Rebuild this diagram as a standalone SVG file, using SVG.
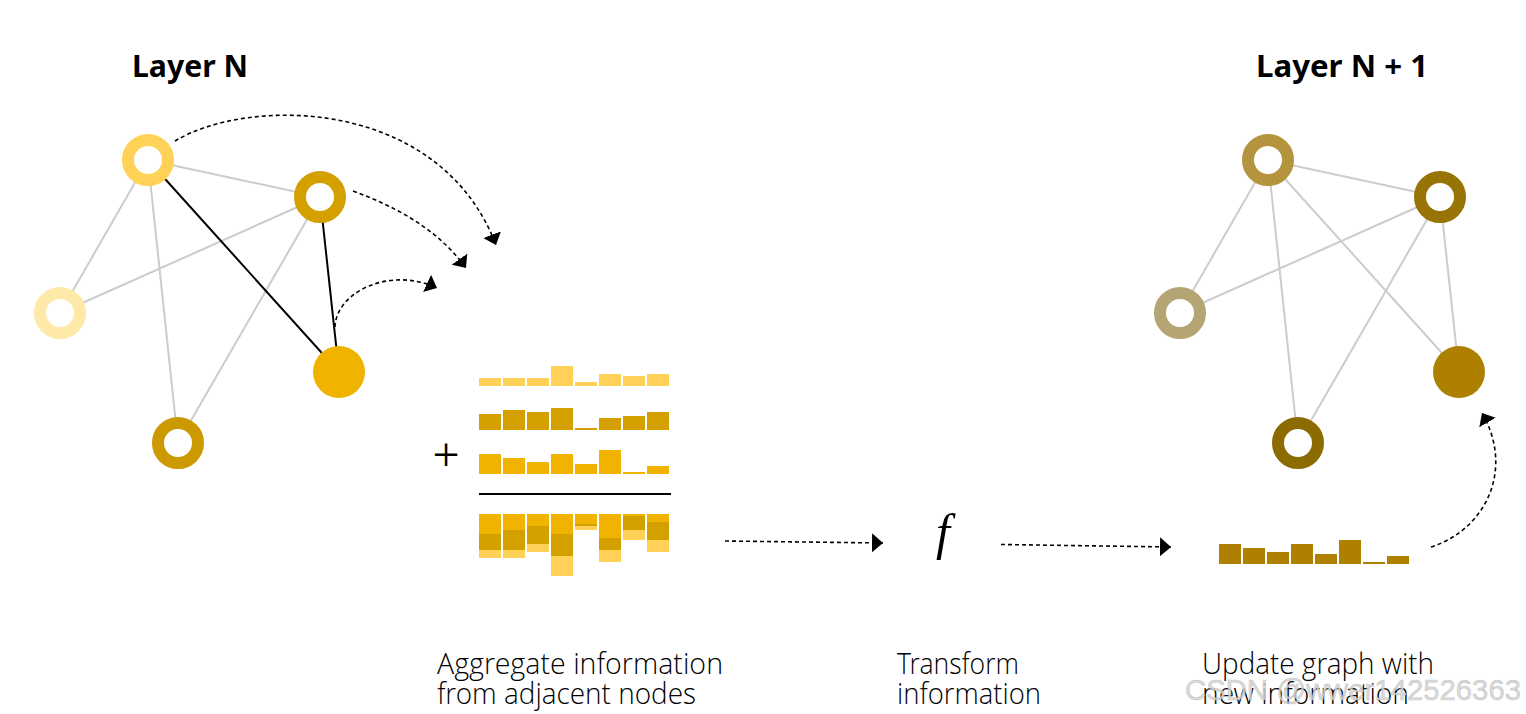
<svg xmlns="http://www.w3.org/2000/svg" width="1526" height="714" viewBox="0 0 1526 714">
<style>
.edge{stroke:#cccccc;stroke-width:2;fill:none}
.bold{stroke:#000;stroke-width:2;fill:none}
.dash{stroke:#000;stroke-width:1.6;fill:none;stroke-dasharray:4 3}
.ring{fill:#fff;stroke-width:12}
.title{font-family:"Noto Sans","Open Sans",sans-serif;font-weight:700;font-size:31px;fill:#000}
.lbl{font-family:"Open Sans Light","Lato Light","Noto Sans Light","Open Sans",sans-serif;font-weight:300;font-size:30px;fill:#000}
.c1{fill:#FFD257}.c2{fill:#D4A000}.c3{fill:#F0B400}.c4{fill:#AD8000}
</style>
<defs>
<marker id="ah" viewBox="0 0 11 19" refX="11" refY="9.5" markerWidth="11" markerHeight="19" markerUnits="userSpaceOnUse" orient="auto">
<path d="M0,0 L11,9.5 L0,19 Z" fill="#000"/>
</marker>
</defs>
<rect width="1526" height="714" fill="#fff"/>

<text class="title" x="132" y="77" textLength="116" lengthAdjust="spacingAndGlyphs">Layer N</text>
<text class="title" x="1256" y="77" textLength="172" lengthAdjust="spacingAndGlyphs">Layer N + 1</text>

<g id="connectors">
<line class="edge" x1="148" y1="160" x2="60" y2="313"/>
<line class="edge" x1="148" y1="160" x2="320" y2="197"/>
<line class="edge" x1="148" y1="160" x2="178" y2="443"/>
<line class="edge" x1="320" y1="197" x2="60" y2="313"/>
<line class="edge" x1="320" y1="197" x2="178" y2="443"/>
<line class="bold" x1="148" y1="160" x2="339" y2="372"/>
<line class="bold" x1="320" y1="197" x2="339" y2="372"/>
<line class="edge" x1="1268" y1="160" x2="1180" y2="313"/>
<line class="edge" x1="1268" y1="160" x2="1440" y2="197"/>
<line class="edge" x1="1268" y1="160" x2="1298" y2="443"/>
<line class="edge" x1="1268" y1="160" x2="1459" y2="372"/>
<line class="edge" x1="1440" y1="197" x2="1180" y2="313"/>
<line class="edge" x1="1440" y1="197" x2="1298" y2="443"/>
<line class="edge" x1="1440" y1="197" x2="1459" y2="372"/>
<path class="dash" d="M175,141 C250,96 440,98 496,245" marker-end="url(#ah)"/>
<path class="dash" d="M353,191 C400,208 440,232 466,268" marker-end="url(#ah)"/>
<path class="dash" d="M335,327 C336,292 390,266 437,288" marker-end="url(#ah)"/>
<path class="dash" d="M725,541 L883,543" marker-end="url(#ah)"/>
<path class="dash" d="M1001,544.5 L1171,547" marker-end="url(#ah)"/>
<path class="dash" d="M1431,547 C1485,530 1515,470 1482,413" marker-end="url(#ah)"/>
</g>

<g id="nodeA"><circle class="ring" cx="148" cy="160" r="20" stroke="#FFD257"/></g>
<g id="nodeB"><circle class="ring" cx="320" cy="197" r="20" stroke="#D4A000"/></g>
<g id="nodeC"><circle class="ring" cx="60" cy="313" r="20" stroke="#FFE9A8"/></g>
<g id="nodeD"><circle cx="339" cy="372" r="26" fill="#F0B400"/></g>
<g id="nodeE"><circle class="ring" cx="178" cy="443" r="20" stroke="#CC9900"/></g>

<g id="nodeA2"><circle class="ring" cx="1268" cy="160" r="20" stroke="#B5943F"/></g>
<g id="nodeB2"><circle class="ring" cx="1440" cy="197" r="20" stroke="#977405"/></g>
<g id="nodeC2"><circle class="ring" cx="1180" cy="313" r="20" stroke="#B5A574"/></g>
<g id="nodeD2"><circle cx="1459" cy="372" r="26" fill="#AD8000"/></g>
<g id="nodeE2"><circle class="ring" cx="1298" cy="443" r="20" stroke="#8C6C00"/></g>

<g id="aggregate">
<text x="446" y="471" font-family="Liberation Serif,serif" font-size="48" text-anchor="middle">+</text>
<g class="c1">
<rect x="479" y="378" width="22" height="8"/><rect x="503" y="378" width="22" height="8"/><rect x="527" y="378" width="22" height="8"/><rect x="551" y="366" width="22" height="20"/><rect x="575" y="382" width="22" height="4"/><rect x="599" y="374" width="22" height="12"/><rect x="623" y="376" width="22" height="10"/><rect x="647" y="374" width="22" height="12"/>
</g>
<g class="c2">
<rect x="479" y="414" width="22" height="16"/><rect x="503" y="410" width="22" height="20"/><rect x="527" y="412" width="22" height="18"/><rect x="551" y="408" width="22" height="22"/><rect x="575" y="428" width="22" height="2"/><rect x="599" y="418" width="22" height="12"/><rect x="623" y="416" width="22" height="14"/><rect x="647" y="412" width="22" height="18"/>
</g>
<g class="c3">
<rect x="479" y="454" width="22" height="20"/><rect x="503" y="458" width="22" height="16"/><rect x="527" y="462" width="22" height="12"/><rect x="551" y="454" width="22" height="20"/><rect x="575" y="464" width="22" height="10"/><rect x="599" y="450" width="22" height="24"/><rect x="623" y="472" width="22" height="2"/><rect x="647" y="466" width="22" height="8"/>
</g>
<line x1="479" y1="494" x2="671" y2="494" stroke="#000" stroke-width="2"/>
<g class="c3">
<rect x="479" y="514" width="22" height="20"/><rect x="503" y="514" width="22" height="16"/><rect x="527" y="514" width="22" height="12"/><rect x="551" y="514" width="22" height="20"/><rect x="575" y="514" width="22" height="10"/><rect x="599" y="514" width="22" height="24"/><rect x="623" y="514" width="22" height="2"/><rect x="647" y="514" width="22" height="8"/>
</g>
<g class="c2">
<rect x="479" y="534" width="22" height="16"/><rect x="503" y="530" width="22" height="20"/><rect x="527" y="526" width="22" height="18"/><rect x="551" y="534" width="22" height="22"/><rect x="575" y="524" width="22" height="2"/><rect x="599" y="538" width="22" height="12"/><rect x="623" y="516" width="22" height="14"/><rect x="647" y="522" width="22" height="18"/>
</g>
<g class="c1">
<rect x="479" y="550" width="22" height="8"/><rect x="503" y="550" width="22" height="8"/><rect x="527" y="544" width="22" height="8"/><rect x="551" y="556" width="22" height="20"/><rect x="575" y="526" width="22" height="4"/><rect x="599" y="550" width="22" height="12"/><rect x="623" y="530" width="22" height="10"/><rect x="647" y="540" width="22" height="12"/>
</g>
</g>

<g id="transform">
<text x="936" y="549" font-family="Liberation Serif,serif" font-style="italic" font-size="50">f</text>
</g>

<g id="update" class="c4">
<rect x="1219" y="544" width="22" height="20"/><rect x="1243" y="548" width="22" height="16"/><rect x="1267" y="552" width="22" height="12"/><rect x="1291" y="544" width="22" height="20"/><rect x="1315" y="554" width="22" height="10"/><rect x="1339" y="540" width="22" height="24"/><rect x="1363" y="562" width="22" height="2"/><rect x="1387" y="556" width="22" height="8"/>
</g>

<g id="labels">
<text class="lbl" x="437" y="673.5" textLength="286" lengthAdjust="spacingAndGlyphs">Aggregate information</text>
<text class="lbl" x="437" y="704" textLength="259" lengthAdjust="spacingAndGlyphs">from adjacent nodes</text>
<text class="lbl" x="897" y="673.5" textLength="122" lengthAdjust="spacingAndGlyphs">Transform</text>
<text class="lbl" x="897" y="704" textLength="144" lengthAdjust="spacingAndGlyphs">information</text>
<text class="lbl" x="1202" y="673.5" textLength="232" lengthAdjust="spacingAndGlyphs">Update graph with</text>
<text class="lbl" x="1202" y="704" textLength="207" lengthAdjust="spacingAndGlyphs">new information</text>
</g>

<text x="1185" y="700" font-family="Liberation Sans,Arial,sans-serif" font-size="30" fill="#d4d4d4" fill-opacity="0.85" stroke="#b0b0b0" stroke-width="0.6" stroke-opacity="0.6" textLength="336" lengthAdjust="spacingAndGlyphs">CSDN @wwer142526363</text>
</svg>
